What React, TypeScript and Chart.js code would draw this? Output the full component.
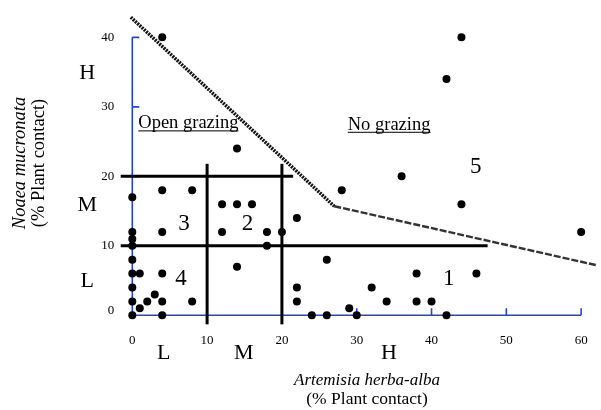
import React, { useEffect, useRef } from "react";
import { Chart, registerables } from "chart.js";

Chart.register(...registerables);

// ---- data ----
const artemisiaCover = [
  0, 0, 0, 0, 0, 0, 0, 0, 0,
  1, 1, 2, 3, 4, 4, 4, 4, 4, 4, 8, 8,
  12, 12, 14, 14, 14, 16, 18, 18, 20,
  22, 22, 22, 24, 26, 26, 28, 29, 30, 32, 34, 36, 38, 38, 40, 42, 42, 44, 44, 46, 60,
];
const noaeaCover = [
  0, 2, 4, 6, 8, 10, 11, 12, 17,
  1, 6, 2, 3, 0, 2, 6, 12, 18, 40, 2, 18,
  12, 16, 7, 16, 24, 16, 10, 12, 12,
  2, 4, 14, 0, 0, 8, 18, 1, 0, 4, 2, 20, 2, 6, 2, 0, 34, 16, 40, 6, 12,
];

const xTicks = [0, 10, 20, 30, 40, 50, 60];
const yTicks = [0, 10, 20, 30, 40];

// class division lines (L / M / H)
const classBreaks = [10, 20];
const vLineYRange = [-1.3, 21.8];
const hLineXStart = -1.55;
const hLineXEnd = [47.5, 21.5]; // for y = 10, y = 20

// grazing boundary
const boundaryX1 = [-0.2, 27];
const boundaryY1 = [42.9, 15.7];
const boundaryX2 = [27, 62.1];
const boundaryY2 = [15.7, 7.2];

// zone numbers
const zoneLabels = ["1", "2", "3", "4", "5"];
const zoneX = [42.3, 15.4, 6.9, 6.5, 45.9];
const zoneY = [5.3, 13.1, 13.1, 5.3, 21.4];

// class letters
const classLetters = ["L", "M", "H"];
const xClassPos = [4.2, 14.9, 34.3];
const yClassPos = [4.9, 15.9, 34.9];

const AXIS_BLUE = "#2244d4";
const SERIF = "'Liberation Serif', 'Times New Roman', serif";

const seg = (xs: number[], ys: number[]) => xs.map((x, i) => ({ x, y: ys[i] }));

export default function App() {
  const ref = useRef<HTMLCanvasElement | null>(null);

  useEffect(() => {
    if (!ref.current) return;

    const decor = {
      id: "decor",
      beforeDatasetsDraw(chart: any) {
        const { ctx } = chart;
        const xs = chart.scales.x;
        const ys = chart.scales.y;
        const x0 = xs.getPixelForValue(0);
        const y0 = ys.getPixelForValue(0);
        ctx.save();
        ctx.strokeStyle = AXIS_BLUE;
        ctx.lineWidth = 1.6;
        ctx.beginPath();
        ctx.moveTo(x0, ys.getPixelForValue(40));
        ctx.lineTo(x0, y0);
        ctx.lineTo(xs.getPixelForValue(60), y0);
        yTicks.forEach((v) => {
          const p = ys.getPixelForValue(v);
          ctx.moveTo(x0, p);
          ctx.lineTo(x0 + 7, p);
        });
        xTicks.forEach((v) => {
          const p = xs.getPixelForValue(v);
          ctx.moveTo(p, y0);
          ctx.lineTo(p, y0 - 7);
        });
        ctx.stroke();
        ctx.restore();
      },
      afterDraw(chart: any) {
        const { ctx } = chart;
        const xs = chart.scales.x;
        const ys = chart.scales.y;
        const X = (v: number) => xs.getPixelForValue(v);
        const Y = (v: number) => ys.getPixelForValue(v);
        ctx.save();
        ctx.fillStyle = "#000";

        // tick labels
        ctx.font = `13px ${SERIF}`;
        ctx.textAlign = "right";
        ctx.textBaseline = "middle";
        yTicks.forEach((v) => {
          ctx.fillText(String(v), X(0) - 18, Y(v) - (v === 0 ? 5 : 0));
        });
        ctx.textAlign = "center";
        xTicks.forEach((v) => {
          ctx.fillText(String(v), X(v), Y(0) + 25);
        });

        // class letters
        ctx.font = `22px ${SERIF}`;
        ctx.textAlign = "center";
        ctx.textBaseline = "middle";
        classLetters.forEach((t, i) => {
          ctx.fillText(t, X(xClassPos[i]), Y(0) + 38);
          ctx.fillText(t, X(0) - 45, Y(yClassPos[i]));
        });

        // zone numbers
        ctx.font = `23px ${SERIF}`;
        zoneLabels.forEach((t, i) => {
          ctx.fillText(t, X(zoneX[i]), Y(zoneY[i]));
        });

        // grazing labels (underlined)
        ctx.font = `18.5px ${SERIF}`;
        ctx.textAlign = "left";
        ctx.textBaseline = "alphabetic";
        const under = (t: string, px: number, py: number) => {
          ctx.fillText(t, px, py);
          const w = ctx.measureText(t).width;
          ctx.fillRect(px, py + 2, w, 1);
        };
        under("Open grazing", X(0.8), Y(26.9));
        under("No grazing", X(28.8), Y(26.7));

        // axis titles
        ctx.textAlign = "center";
        ctx.textBaseline = "middle";
        ctx.font = `italic 17px ${SERIF}`;
        ctx.fillText("Artemisia herba-alba", 367, 381);
        ctx.font = `17.5px ${SERIF}`;
        ctx.fillText("(% Plant contact)", 367, 399);

        ctx.translate(20, 163);
        ctx.rotate(-Math.PI / 2);
        ctx.font = `italic 18.5px ${SERIF}`;
        ctx.fillText("Noaea mucronata", 0, 0);
        ctx.font = `18.5px ${SERIF}`;
        ctx.fillText("(% Plant contact)", 0, 19);
        ctx.restore();
      },
    };

    const lineDs = (data: any[], width: number, dash: number[] = [], color = "#000") => ({
      type: "scatter" as const,
      data,
      showLine: true,
      borderColor: color,
      borderWidth: width,
      borderDash: dash,
      pointRadius: 0,
      fill: false,
      clip: false as any,
    });

    const chart = new Chart(ref.current, {
      type: "scatter",
      data: {
        datasets: [
          {
            data: artemisiaCover.map((x, i) => ({ x, y: noaeaCover[i] })),
            backgroundColor: "#000",
            borderColor: "#000",
            borderWidth: 0,
            pointRadius: 4,
            clip: false as any,
          },
          ...classBreaks.map((b) =>
            lineDs(
              [
                { x: b, y: vLineYRange[0] },
                { x: b, y: vLineYRange[1] },
              ],
              3
            )
          ),
          ...classBreaks.map((b, i) =>
            lineDs(
              [
                { x: hLineXStart, y: b },
                { x: hLineXEnd[i], y: b },
              ],
              3
            )
          ),
          lineDs(seg(boundaryX1, boundaryY1), 3.5, [2, 1], "#111"),
          lineDs(seg(boundaryX2, boundaryY2), 2.4, [7, 2], "#333"),
        ] as any,
      },
      options: {
        animation: false,
        responsive: false,
        devicePixelRatio: 1,
        events: [],
        layout: { padding: 0 },
        plugins: { legend: { display: false }, tooltip: { enabled: false } },
        scales: {
          x: { type: "linear", display: false, min: -17.15, max: 62.12 },
          y: { type: "linear", display: false, min: -13.05, max: 44.8 },
        },
      },
      plugins: [decor],
    });

    return () => chart.destroy();
  }, []);

  return (
    <div
      style={{
        position: "fixed",
        left: 0,
        top: 0,
        width: 601,
        height: 410,
        background: "#fff",
      }}
    >
      <canvas ref={ref} width={601} height={410} />
    </div>
  );
}
